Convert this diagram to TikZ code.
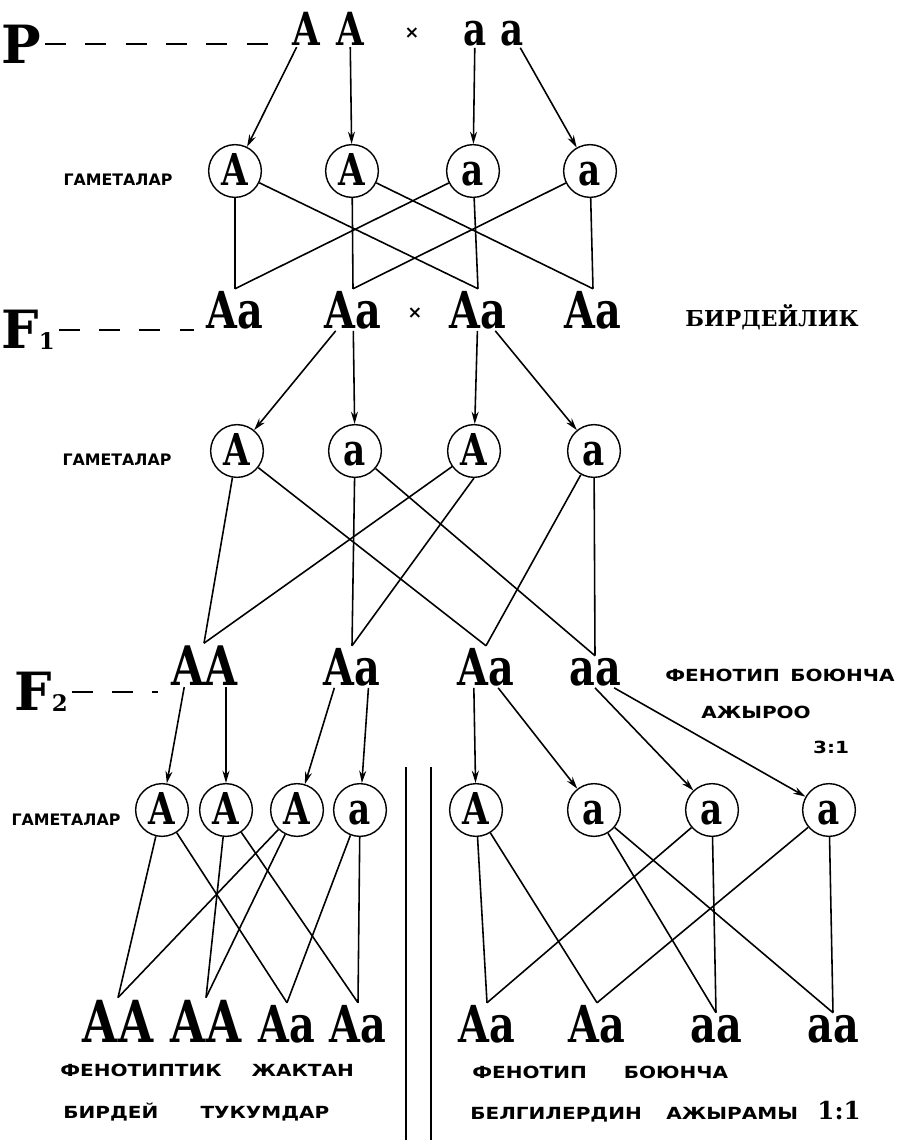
\documentclass[tikz,border=0pt]{standalone}
\usepackage{fontspec}
\usetikzlibrary{arrows.meta}
\newfontfamily\genefont[FakeStretch=0.78]{DejaVu Serif}
\newfontfamily\serifbold{DejaVu Serif}
\newfontfamily\capsfont[FakeStretch=1.2]{DejaVu Sans}
\newfontfamily\plainfont{DejaVu Sans}

\begin{document}
\begin{tikzpicture}[x=0.02cm,y=-0.02cm,
    gen/.style={inner sep=1pt,anchor=base,font=\genefont\bfseries\fontsize{#1}{#1}\selectfont},
    gen/.default=29,
    gam/.style={circle,draw,line width=0.8pt,minimum size=30pt,inner sep=0pt,
      text height=17pt,text depth=0pt,font=\genefont\bfseries\fontsize{25}{25}\selectfont},
    lvl/.style={inner sep=2pt,anchor=base,font=\serifbold\bfseries\fontsize{30}{30}\selectfont},
    wire/.style={line width=0.9pt},
    arr/.style={line width=0.9pt,-{Stealth[length=7pt,width=4pt]}},
    dsh/.style={line width=1.3pt,dash pattern=on 12pt off 11pt,shorten >=6pt},
    lbl/.style={inner sep=0pt,font=\capsfont\bfseries\fontsize{9.5}{9.5}\selectfont},
    gamlbl/.style={inner sep=0pt,font=\plainfont\bfseries\fontsize{9}{9}\selectfont}]
  \useasboundingbox (0,0) rectangle (913,1140);

  \node[lvl] (P) at (21,63) {P};
  \node[lvl] (F1) at (28,348) {F\raisebox{-1pt}{\fontsize{13}{13}\selectfont 1}};
  \node[lvl] (F2) at (41,710) {F\raisebox{-1pt}{\fontsize{13}{13}\selectfont 2}};

  \foreach \x/\t [count=\i] in {306/A,350/A,475/a,512/a}
    \node[gen=26] (p\i) at (\x,45) {\t};
  \foreach \x [count=\i] in {235,353,478,593}
    \node[gen] (f1\i) at (\x,328) {Aa};
  \foreach \x/\t/\s [count=\i] in {204/AA/31,352/Aa/29,486/Aa/29,595/aa/29}
    \node[gen=\s] (f2\i) at (\x,685) {\t};
  \foreach \x/\t/\s [count=\i] in {118/AA/33,206/AA/33,287/Aa/29,358/Aa/29,487/Aa/29,597/Aa/29,716/aa/29,833/aa/29}
    \node[gen=\s] (b\i) at (\x,1042) {\t};

  \node[font=\plainfont\bfseries\fontsize{10}{10}\selectfont] (x1) at (412,33) {×};
  \node[font=\plainfont\bfseries\fontsize{10}{10}\selectfont] (x2) at (415,313) {×};

  \foreach \x/\t [count=\i] in {235/A,352/A,473/a,590/a}
    \node[gam] (c1\i) at (\x,171) {\t};
  \foreach \x/\t [count=\i] in {237/A,355/a,474/A,594/a}
    \node[gam] (c2\i) at (\x,451) {\t};
  \foreach \x/\t [count=\i] in {162/A,226/A,297/A,360/a,476/A,594/a,712/a,829/a}
    \node[gam] (c3\i) at (\x,810) {\t};

  \draw[dsh] (P.east) -- (P.east -| p1.west);
  \draw[dsh] (F1.east) -- (F1.east -| f11.west);
  \draw[dsh] (F2.east) -- (F2.east -| f21.west);

  \foreach \a/\b in {p1/c11,p2/c12,p3/c13,p4/c14,f12/c21,f12/c22,f13/c23,f13/c24,
      f21.228/c31,f21.315/c32,f22.230/c33,f22.308/c34,f23.240/c35,f23.300/c36,f24.270/c37,f24.320/c38}
    \draw[arr] (\a) -- (\b);

  \foreach \a/\b in {c11/f11,c11/f13,c12/f12,c12/f14,c13/f11,c13/f13,c14/f12,c14/f14,
      c21/f21,c21/f23,c22/f22,c22/f24,c23/f21,c23.south/f22,c24/f23,c24/f24,
      c31/b1,c31/b3,c32/b2,c32/b4,c33/b1,c33/b2,c34/b3,c34/b4,
      c35/b5,c35/b6,c36/b7,c36/b8,c37/b5,c37/b7,c38/b6,c38/b8}
    \draw[wire] (\a) -- (\b.north);

  \draw[line width=1.4pt] (406,767) -- (406,1140);
  \draw[line width=1.4pt] (431,767) -- (431,1140);

  \node[gamlbl] (gl1) at (118,180) {ГАМЕТАЛАР};
  \node[gamlbl] (gl2) at (117,460) {ГАМЕТАЛАР};
  \node[gamlbl] (gl3) at (66,820) {ГАМЕТАЛАР};
  \node[font=\serifbold\bfseries\fontsize{12.5}{12.5}\selectfont] (bird) at (772,317) {БИРДЕЙЛИК};
  \node[lbl] (ph1) at (780,675) {ФЕНОТИП\hspace{6pt}БОЮНЧА};
  \node[lbl] (ph2) at (756,712) {АЖЫРОО};
  \node[lbl] (ph3) at (831,747) {3:1};
  \node[lbl,anchor=west] (bl1) at (60,1070) {ФЕНОТИПТИК\hspace{17pt}ЖАКТАН};
  \node[lbl,anchor=west] (bl2) at (63,1112) {БИРДЕЙ\hspace{24pt}ТУКУМДАР};
  \node[lbl,anchor=west] (br1) at (472,1072) {ФЕНОТИП\hspace{21pt}БОЮНЧА};
  \node[lbl,anchor=west] (br2) at (470,1112) {БЕЛГИЛЕРДИН\hspace{14pt}АЖЫРАМЫ\hspace{11pt}{\serifbold\bfseries\fontsize{14}{14}\selectfont 1:1}};
\end{tikzpicture}
\end{document}
